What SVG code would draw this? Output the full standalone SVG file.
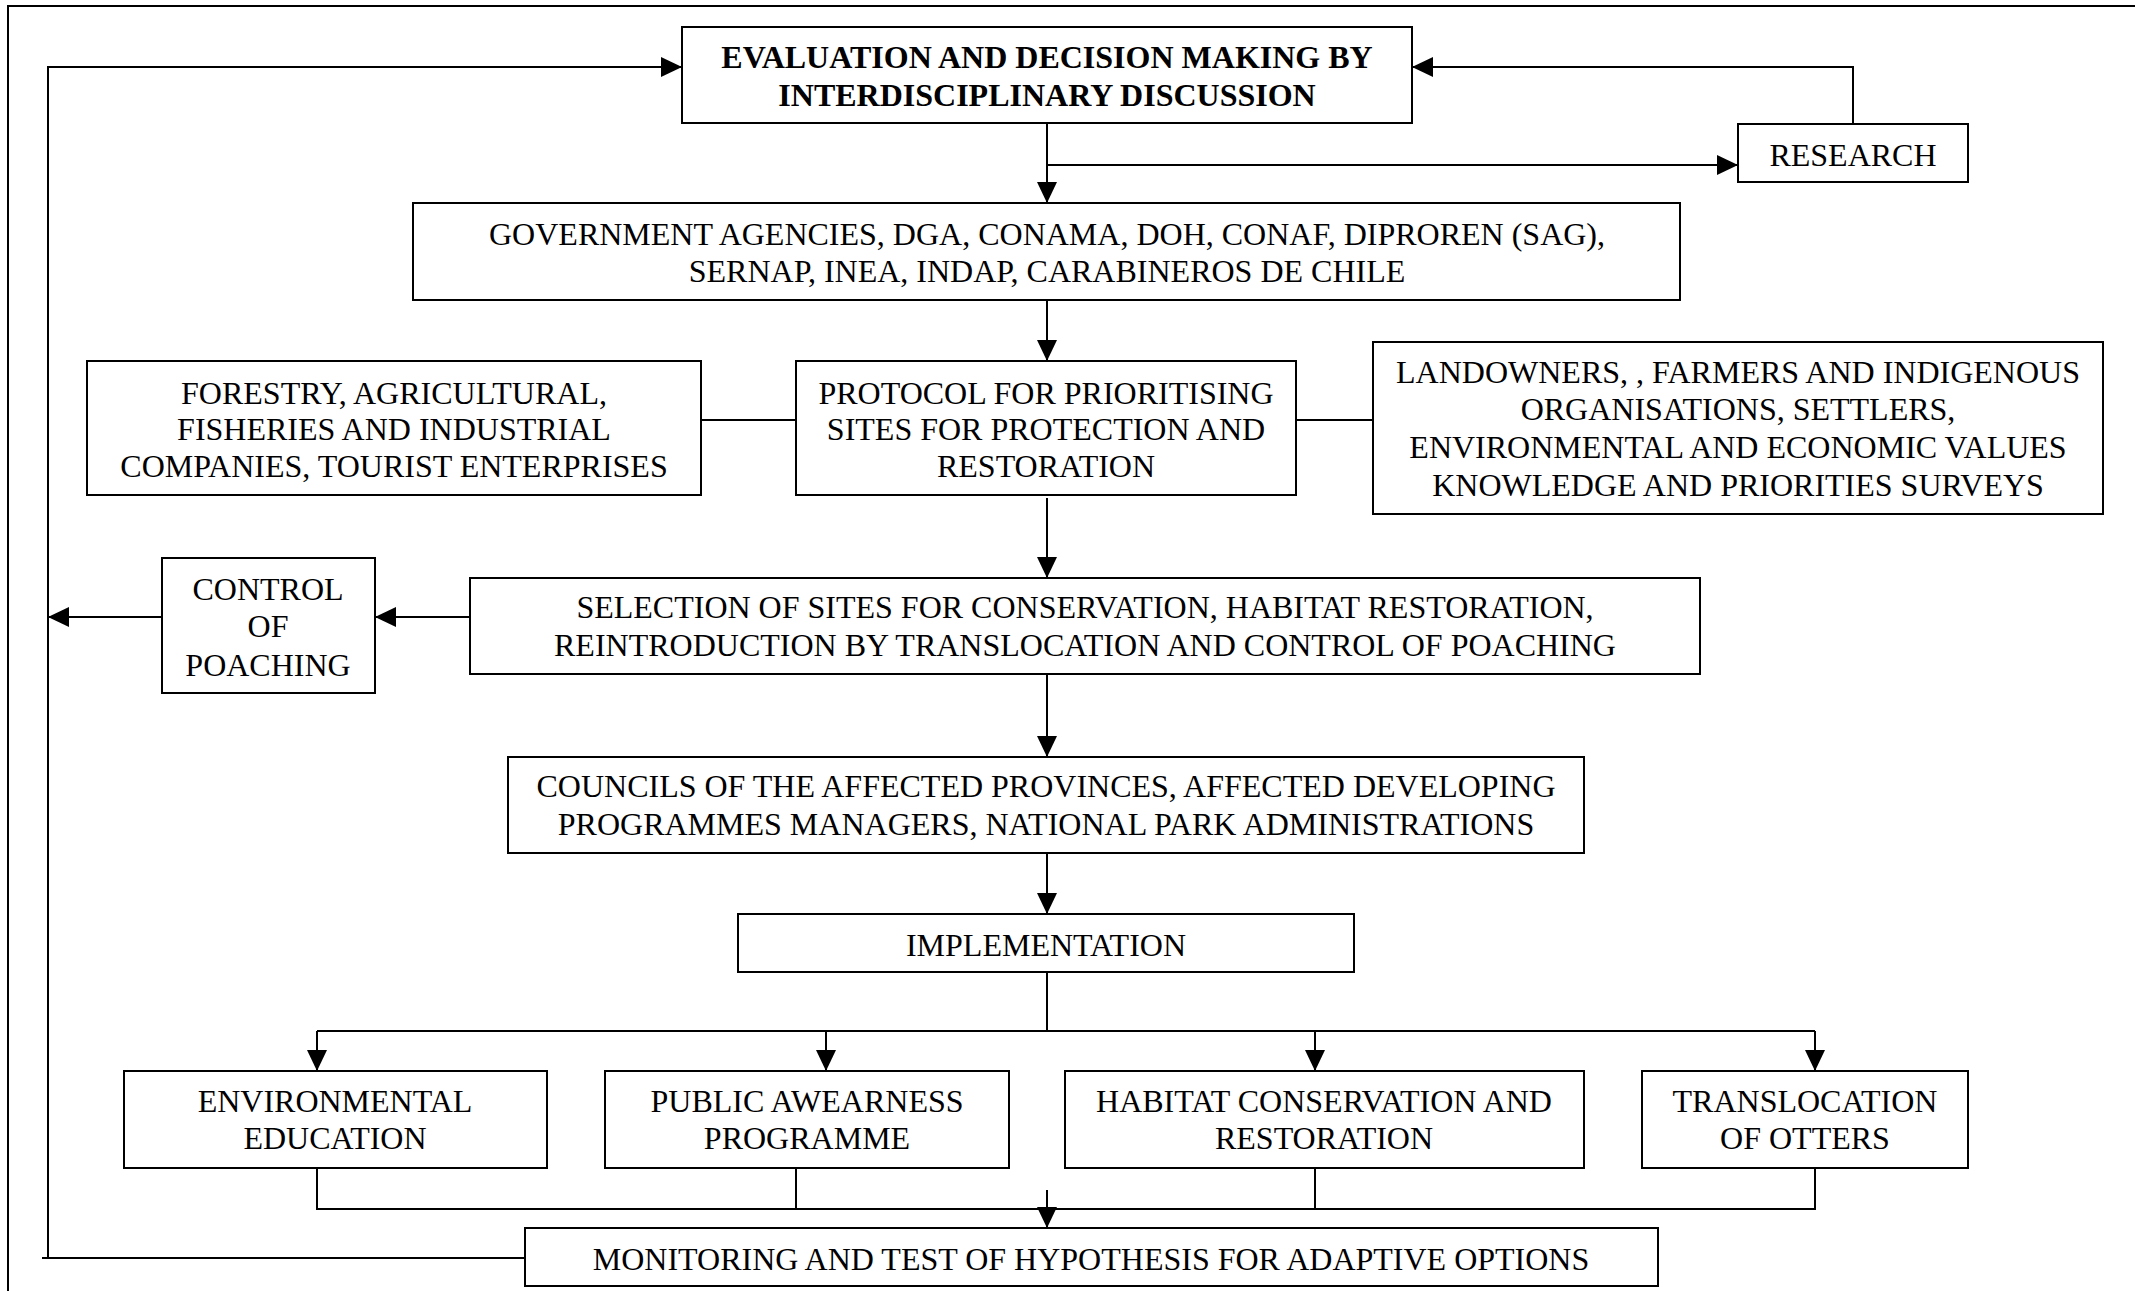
<svg xmlns="http://www.w3.org/2000/svg" width="2135" height="1291" viewBox="0 0 2135 1291">
<style>
.box{fill:#fff;stroke:#000;stroke-width:2}
.t{font-family:"Liberation Serif","Times New Roman",serif;font-size:32px;fill:#000;text-anchor:middle}
.b{font-weight:bold}
.c{fill:none;stroke:#000;stroke-width:2}
</style>
<defs>
<marker id="ah" markerUnits="userSpaceOnUse" markerWidth="21" markerHeight="20" refX="21" refY="10" orient="auto" viewBox="0 0 21 20">
<path d="M0,0 L21,10 L0,20 z" fill="#000"/>
</marker>
</defs>
<rect width="2135" height="1291" fill="#fff"/>
<rect x="8" y="6" width="2300" height="1400" fill="none" stroke="#000" stroke-width="2"/>
<g id="connectors">
<path class="c" d="M525 1258 H42 M48 1258 V67 H682" marker-end="url(#ah)"/>
<path class="c" d="M1853 124 V67 H1412" marker-end="url(#ah)"/>
<path class="c" d="M1047 123 V203" marker-end="url(#ah)"/>
<path class="c" d="M1047 165 H1738" marker-end="url(#ah)"/>
<path class="c" d="M1047 300 V361" marker-end="url(#ah)"/>
<path class="c" d="M701 420 H796"/>
<path class="c" d="M1296 420 H1373"/>
<path class="c" d="M1047 498 V578" marker-end="url(#ah)"/>
<path class="c" d="M470 617 H375" marker-end="url(#ah)"/>
<path class="c" d="M162 617 H48" marker-end="url(#ah)"/>
<path class="c" d="M1047 674 V757" marker-end="url(#ah)"/>
<path class="c" d="M1047 853 V914" marker-end="url(#ah)"/>
<path class="c" d="M1047 972 V1031 M317 1031 H1815"/>
<path class="c" d="M317 1031 V1071" marker-end="url(#ah)"/>
<path class="c" d="M826 1031 V1071" marker-end="url(#ah)"/>
<path class="c" d="M1315 1031 V1071" marker-end="url(#ah)"/>
<path class="c" d="M1815 1031 V1071" marker-end="url(#ah)"/>
<path class="c" d="M317 1168 V1209 H1815 V1168 M796 1168 V1209 M1315 1168 V1209"/>
<path class="c" d="M1047 1190 V1228" marker-end="url(#ah)"/>
</g>
<g id="evaluation">
<rect class="box" x="682" y="27" width="730" height="96"/>
<text class="t b" x="1047" y="68">EVALUATION AND DECISION MAKING BY</text>
<text class="t b" x="1047" y="106">INTERDISCIPLINARY DISCUSSION</text>
</g>
<g id="research">
<rect class="box" x="1738" y="124" width="230" height="58"/>
<text class="t" x="1853" y="166">RESEARCH</text>
</g>
<g id="government">
<rect class="box" x="413" y="203" width="1267" height="97"/>
<text class="t" x="1047" y="245">GOVERNMENT AGENCIES, DGA, CONAMA, DOH, CONAF, DIPROREN (SAG),</text>
<text class="t" x="1047" y="282">SERNAP, INEA, INDAP, CARABINEROS DE CHILE</text>
</g>
<g id="forestry">
<rect class="box" x="87" y="361" width="614" height="134"/>
<text class="t" x="394" y="404">FORESTRY, AGRICULTURAL,</text>
<text class="t" x="394" y="440">FISHERIES AND INDUSTRIAL</text>
<text class="t" x="394" y="477">COMPANIES, TOURIST ENTERPRISES</text>
</g>
<g id="protocol">
<rect class="box" x="796" y="361" width="500" height="134"/>
<text class="t" x="1046" y="404">PROTOCOL FOR PRIORITISING</text>
<text class="t" x="1046" y="440">SITES FOR PROTECTION AND</text>
<text class="t" x="1046" y="477">RESTORATION</text>
</g>
<g id="landowners">
<rect class="box" x="1373" y="342" width="730" height="172"/>
<text class="t" x="1738" y="383">LANDOWNERS, , FARMERS AND INDIGENOUS</text>
<text class="t" x="1738" y="420">ORGANISATIONS, SETTLERS,</text>
<text class="t" x="1738" y="458">ENVIRONMENTAL AND ECONOMIC VALUES</text>
<text class="t" x="1738" y="496">KNOWLEDGE AND PRIORITIES SURVEYS</text>
</g>
<g id="control">
<rect class="box" x="162" y="558" width="213" height="135"/>
<text class="t" x="268" y="600">CONTROL</text>
<text class="t" x="268" y="637">OF</text>
<text class="t" x="268" y="676">POACHING</text>
</g>
<g id="selection">
<rect class="box" x="470" y="578" width="1230" height="96"/>
<text class="t" x="1085" y="618">SELECTION OF SITES FOR CONSERVATION, HABITAT RESTORATION,</text>
<text class="t" x="1085" y="656">REINTRODUCTION BY TRANSLOCATION AND CONTROL OF POACHING</text>
</g>
<g id="councils">
<rect class="box" x="508" y="757" width="1076" height="96"/>
<text class="t" x="1046" y="797">COUNCILS OF THE AFFECTED PROVINCES, AFFECTED DEVELOPING</text>
<text class="t" x="1046" y="835">PROGRAMMES MANAGERS, NATIONAL PARK ADMINISTRATIONS</text>
</g>
<g id="implementation">
<rect class="box" x="738" y="914" width="616" height="58"/>
<text class="t" x="1046" y="956">IMPLEMENTATION</text>
</g>
<g id="education">
<rect class="box" x="124" y="1071" width="423" height="97"/>
<text class="t" x="335" y="1112">ENVIRONMENTAL</text>
<text class="t" x="335" y="1149">EDUCATION</text>
</g>
<g id="awareness">
<rect class="box" x="605" y="1071" width="404" height="97"/>
<text class="t" x="807" y="1112">PUBLIC AWEARNESS</text>
<text class="t" x="807" y="1149">PROGRAMME</text>
</g>
<g id="habitat">
<rect class="box" x="1065" y="1071" width="519" height="97"/>
<text class="t" x="1324" y="1112">HABITAT CONSERVATION AND</text>
<text class="t" x="1324" y="1149">RESTORATION</text>
</g>
<g id="translocation">
<rect class="box" x="1642" y="1071" width="326" height="97"/>
<text class="t" x="1805" y="1112">TRANSLOCATION</text>
<text class="t" x="1805" y="1149">OF OTTERS</text>
</g>
<g id="monitoring">
<rect class="box" x="525" y="1228" width="1133" height="58"/>
<text class="t" x="1091" y="1270">MONITORING AND TEST OF HYPOTHESIS FOR ADAPTIVE OPTIONS</text>
</g>
</svg>
